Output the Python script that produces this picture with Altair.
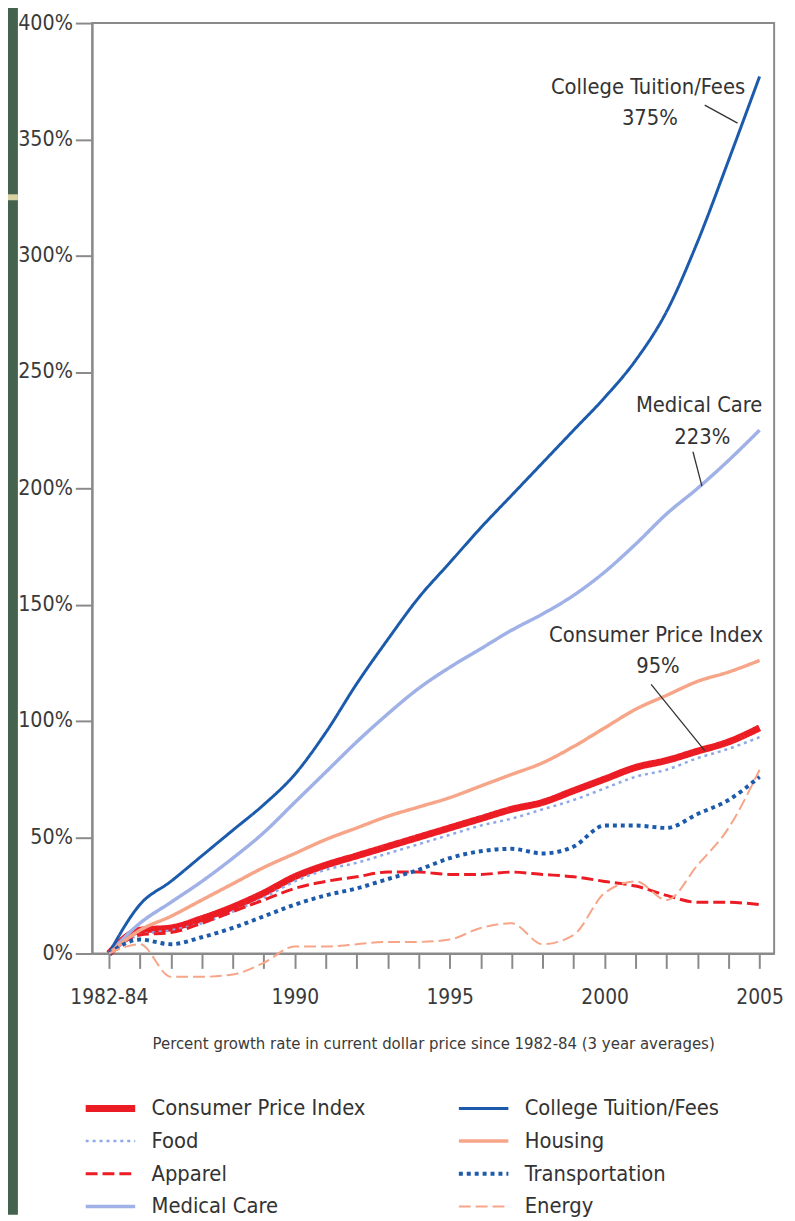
import altair as alt
import pandas as pd

# ---- data ----
years = list(range(1984, 2006))  # 1984 position is labelled "1982-84"
cpi = [0, 10, 11, 15, 20, 26, 33, 38, 42, 46, 50, 54, 58, 62, 65, 70, 75, 80, 83, 87, 91, 97]
food = [0, 8, 10, 13, 18, 24, 31, 36, 39, 43, 47, 51, 55, 58, 62, 66, 71, 76, 79, 84, 88, 93]
apparel = [0, 8, 9, 13, 18, 23, 28, 31, 33, 35, 35, 34, 34, 35, 34, 33, 31, 29, 25, 22, 22, 21]
medical = [0, 13, 22, 31, 41, 52, 65, 78, 91, 103, 114, 123, 131, 139, 146, 154, 164, 176, 189, 200, 212, 225]
college = [0, 21, 31, 42, 53, 64, 77, 95, 116, 135, 153, 168, 183, 197, 211, 225, 239, 255, 276, 306, 341, 377]
housing = [0, 10, 16, 23, 30, 37, 43, 49, 54, 59, 63, 67, 72, 77, 82, 89, 97, 105, 111, 117, 121, 126]
transport = [0, 6, 4, 7, 11, 16, 21, 25, 28, 32, 36, 41, 44, 45, 43, 46, 55, 55, 54, 60, 66, 76]
energy = [0, 4, -10, -10, -9, -4, 3, 3, 4, 5, 5, 6, 11, 13, 4, 8, 26, 31, 23, 38, 54, 79]

# legend order (filled column by column)
series_names = ["Consumer Price Index", "Food", "Apparel", "Medical Care",
                "College Tuition/Fees", "Housing", "Transportation", "Energy"]
series_values = [cpi, food, apparel, medical, college, housing, transport, energy]
series_colors = ["#ec1c24", "#8ea7e6", "#ec1c24", "#9fb1e6",
                 "#1c5aab", "#f7a588", "#1c5aab", "#f7a588"]
series_dash = [[1, 0], [3, 4], [12, 5], [1, 0], [1, 0], [1, 0], [4, 4], [12, 5]]
series_width = [7, 2.5, 3, 3.5, 3, 3.5, 4, 2]
# drawing order (later = on top)
draw_order = ["Energy", "Housing", "Medical Care", "College Tuition/Fees",
              "Transportation", "Apparel", "Food", "Consumer Price Index"]

y_ticks = [0, 50, 100, 150, 200, 250, 300, 350, 400]

ann_text = ["College Tuition/Fees", "375%", "Medical Care", "223%", "Consumer Price Index", "95%"]
ann_x = [2001.40, 2001.46, 2003.05, 2003.15, 2001.66, 2001.72]
ann_y = [372.3, 359.2, 235.7, 222, 137, 123.4]

lead_x = [2003.23, 2002.85, 2001.5]
lead_y = [364.7, 215.7, 115.7]
lead_x2 = [2004.29, 2003.14, 2003.23]
lead_y2 = [357, 200.9, 87.2]

# ---- tables ----
rows = []
for name, vals in zip(series_names, series_values):
    for yr, v in zip(years, vals):
        rows.append({"year": yr, "pct": v, "series": name, "z": draw_order.index(name)})
df = pd.DataFrame(rows)
ann = pd.DataFrame({"text": ann_text, "x": ann_x, "y": ann_y})
lead = pd.DataFrame({"x": lead_x, "y": lead_y, "x2": lead_x2, "y2": lead_y2})

FONT = "DejaVu Sans Condensed"
W, H = 689, 940

xscale = alt.Scale(domain=[1983.46, 2005.47], nice=False, zero=False)
yscale = alt.Scale(domain=[0, 400], nice=False)

x_axis = alt.Axis(
    values=years, tickCount=40,
    labelExpr="datum.value == 1984 ? '1982-84' : (datum.value >= 1990 && datum.value % 5 == 0 ? datum.value : '')",
    title="Percent growth rate in current dollar price since 1982-84 (3 year averages)",
    grid=False, tickSize=15, tickWidth=2, tickColor="#8a8a8a",
    domainColor="#8a8a8a", domainWidth=2,
    labelFont=FONT, labelFontSize=21, labelColor="#3a3a3a", labelPadding=18,
    labelFlush=False, labelOverlap=False,
    titleFont=FONT, titleFontSize=16.8, titleFontWeight="normal", titleColor="#3a3a3a",
    titlePadding=29,
)
y_axis = alt.Axis(
    values=y_ticks, tickCount=20, labelExpr="datum.value + '%'", title=None, grid=False,
    tickSize=17, tickWidth=2, tickColor="#8a8a8a",
    domainColor="#8a8a8a", domainWidth=2,
    labelFont=FONT, labelFontSize=21.5, labelColor="#3a3a3a", labelPadding=3,
    labelFlush=False, labelOverlap=False,
)

one = pd.DataFrame({"a": [0]})
green_strip = alt.Chart(one).mark_rect(color="#44634e").encode(
    x=alt.value(-93), x2=alt.value(-75), y=alt.value(-17), y2=alt.value(1204)
)
accent = alt.Chart(one).mark_rect(color="#d9d3a3").encode(
    x=alt.value(-93), x2=alt.value(-75), y=alt.value(173), y2=alt.value(179)
)

lines = alt.Chart(df).mark_line(interpolate="monotone").encode(
    x=alt.X("year:Q", scale=xscale, axis=x_axis),
    y=alt.Y("pct:Q", scale=yscale, axis=y_axis),
    color=alt.Color("series:N", scale=alt.Scale(domain=series_names, range=series_colors),
                    sort=series_names, legend=alt.Legend(title=None)),
    strokeDash=alt.StrokeDash("series:N", scale=alt.Scale(domain=series_names, range=series_dash),
                              sort=series_names, legend=alt.Legend(title=None)),
    strokeWidth=alt.StrokeWidth("series:N",
                                scale=alt.Scale(type="ordinal", domain=series_names, range=series_width),
                                sort=series_names, legend=alt.Legend(title=None)),
    detail="z:O",
    order=alt.Order("year:Q"),
)

leaders = alt.Chart(lead).mark_rule(color="#333333", strokeWidth=1.3).encode(
    x="x:Q", y="y:Q", x2="x2:Q", y2="y2:Q"
)
labels = alt.Chart(ann).mark_text(font=FONT, fontSize=22, color="#333333",
                                  align="center", baseline="middle").encode(
    x="x:Q", y="y:Q", text="text:N"
)

chart = alt.layer(green_strip, accent, lines, leaders, labels).properties(
    width=W, height=H,
    autosize=alt.AutoSizeParams(type="none"),
    padding={"left": 85, "top": 9, "right": 13, "bottom": 264},
).configure(
    background="white",
).configure_view(
    stroke="#8a8a8a", strokeWidth=2,
).configure_legend(
    orient="none", legendX=-10, legendY=1080, columns=2,
    symbolType="stroke", symbolSize=2500, labelFont=FONT, labelFontSize=22,
    labelColor="#333333", labelOffset=13, columnPadding=90, rowPadding=0,
    clipHeight=33, padding=0, labelLimit=400,
)

chart.save("out.html", embed_options={"renderer": "svg", "actions": False})
